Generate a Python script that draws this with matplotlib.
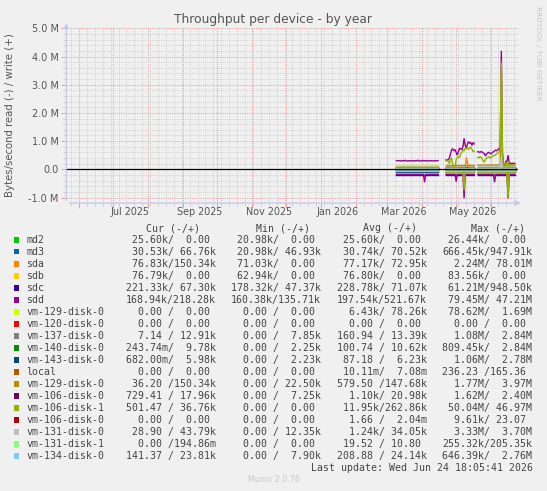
import datetime as dt
import numpy as np
import pandas as pd
import matplotlib
matplotlib.use("Agg")
import matplotlib.pyplot as plt
import matplotlib.dates as mdates
from matplotlib.ticker import MultipleLocator, FuncFormatter
from matplotlib.patches import Rectangle

# ---------------- data (values in MB/s) ----------------
names = ["md2", "md3", "sda", "sdb", "sdc", "sdd", "vm-129-disk-0", "vm-120-disk-0",
         "vm-137-disk-0", "vm-140-disk-0", "vm-143-disk-0", "local", "vm-129-disk-0",
         "vm-106-disk-0", "vm-106-disk-1", "vm-106-disk-0", "vm-131-disk-0",
         "vm-131-disk-1", "vm-134-disk-0"]
colors = ["#00CC00", "#0066B3", "#FF8000", "#FFCC00", "#330099", "#990099", "#CCFF00",
          "#FF0000", "#808080", "#008F00", "#00487D", "#B35A00", "#B38F00", "#6B006B",
          "#8FB300", "#B30000", "#BEBEBE", "#80FF80", "#80C9FF"]

seg_ranges = [("2026-03-09", "2026-04-15"), ("2026-04-22", "2026-05-17"), ("2026-05-20", "2026-06-22")]

# per-segment flat levels (read drawn negative)
read_levels = [
    [0.026, 0.026, 0.026], [0.035, 0.035, 0.035], [0.077, 0.077, 0.077], [0.077, 0.077, 0.077],
    [0.21, 0.21, 0.21], [0.18, 0.18, 0.18], [0.0, 0.0, 0.0], [0.0, 0.0, 0.0],
    [0.0, 0.0, 0.0], [0.0, 0.0, 0.0], [0.10, 0.10, 0.10], [0.0, 0.0, 0.0],
    [0.0, 0.0, 0.0], [0.0, 0.0, 0.0], [0.0, 0.12, 0.12], [0.0, 0.0, 0.0],
    [0.0, 0.0, 0.0], [0.0, 0.0, 0.0], [0.075, 0.075, 0.075]]
write_levels = [
    [0.0, 0.0, 0.0], [0.07, 0.07, 0.07], [0.07, 0.07, 0.07], [0.0, 0.0, 0.0],
    [0.06, 0.06, 0.06], [0.30, 0.60, 0.60], [0.15, 0.0, 0.0], [0.0, 0.0, 0.0],
    [0.013, 0.013, 0.013], [0.01, 0.01, 0.01], [0.006, 0.006, 0.006], [0.0, 0.0, 0.0],
    [0.09, 0.15, 0.15], [0.02, 0.02, 0.02], [0.0, 0.3, 0.3], [0.0, 0.0, 0.0],
    [0.034, 0.034, 0.034], [0.0, 0.0, 0.0], [0.024, 0.024, 0.024]]

# detailed daily series
sdd_write_seg1 = [0.31, 0.30, 0.31, 0.30, 0.29, 0.31, 0.30, 0.30, 0.32, 0.30, 0.29, 0.30, 0.31,
                  0.30, 0.30, 0.29, 0.31, 0.30, 0.30, 0.32, 0.30, 0.29, 0.30, 0.31, 0.30, 0.30,
                  0.31, 0.29, 0.30, 0.30, 0.31, 0.30, 0.30, 0.29, 0.31, 0.30, 0.30, 0.31]
sdd_write_seg2 = [0.33, 0.33, 0.34, 0.40, 0.55, 0.70, 0.72, 0.65, 0.70, 0.60, 0.50, 0.62, 0.75,
                  0.72, 0.70, 0.80, 1.10, 0.85, 0.75, 0.90, 0.98, 0.92, 0.95, 0.85, 0.95, 0.90]
sdd_write_seg3 = [0.62, 0.62, 0.60, 0.63, 0.61, 0.58, 0.55, 0.47, 0.55, 0.58, 0.60, 0.57, 0.55,
                  0.60, 0.62, 0.65, 0.68, 0.66, 0.70, 0.75, 0.80, 4.20, 0.60, 0.12, 0.15, 0.30,
                  0.25, 0.50, 0.20, 0.22, 0.20, 0.22, 0.21, 0.21]
vm106d1_write_seg2 = [0.30, 0.30, 0.28, 0.20, 0.35, 0.40, 0.15, 0.05, 0.10, 0.35, 0.40, 0.45, 0.42,
                      0.55, 0.60, 0.70, 0.65, 0.75, 0.72, 0.78, 0.70, 0.75, 0.80, 0.70, 0.62, 0.65]
vm106d1_write_seg3 = [0.42, 0.40, 0.45, 0.43, 0.38, 0.30, 0.25, 0.35, 0.40, 0.42, 0.45, 0.40, 0.42,
                      0.45, 0.50, 0.48, 0.52, 0.55, 0.58, 0.62, 0.80, 3.80, 0.50, 0.05, 0.08, 0.25,
                      0.10, 0.30, 0.10, 0.12, 0.15, 0.12, 0.15, 0.15]

# single-day spikes: (series index, date, value)
read_spikes = [(5, "2026-04-03", 0.46), (5, "2026-05-01", 0.44), (5, "2026-05-08", 1.03),
               (5, "2026-06-04", 0.46), (5, "2026-06-16", 1.03),
               (14, "2026-05-08", 0.75), (14, "2026-06-16", 1.00),
               (12, "2026-06-16", 0.90)]
write_spikes = [(2, "2026-05-10", 0.42), (2, "2026-05-11", 0.25),
                (12, "2026-06-10", 3.50), (16, "2026-06-10", 0.40)]

# legend table
cur_vals = [("25.60k", "0.00"), ("30.53k", "66.76k"), ("76.83k", "150.34k"), ("76.79k", "0.00"),
            ("221.33k", "67.30k"), ("168.94k", "218.28k"), ("0.00", "0.00"), ("0.00", "0.00"),
            ("7.14", "12.91k"), ("243.74m", "9.78k"), ("682.00m", "5.98k"), ("0.00", "0.00"),
            ("36.20", "150.34k"), ("729.41", "17.96k"), ("501.47", "36.76k"), ("0.00", "0.00"),
            ("28.90", "43.79k"), ("0.00", "194.86m"), ("141.37", "23.81k")]
min_vals = [("20.98k", "0.00"), ("20.98k", "46.93k"), ("71.03k", "0.00"), ("62.94k", "0.00"),
            ("178.32k", "47.37k"), ("160.38k", "135.71k"), ("0.00", "0.00"), ("0.00", "0.00"),
            ("0.00", "7.85k"), ("0.00", "2.25k"), ("0.00", "2.23k"), ("0.00", "0.00"),
            ("0.00", "22.50k"), ("0.00", "7.25k"), ("0.00", "0.00"), ("0.00", "0.00"),
            ("0.00", "12.35k"), ("0.00", "0.00"), ("0.00", "7.90k")]
avg_vals = [("25.60k", "0.00"), ("30.74k", "70.52k"), ("77.17k", "72.95k"), ("76.80k", "0.00"),
            ("228.78k", "71.07k"), ("197.54k", "521.67k"), ("6.43k", "78.26k"), ("0.00", "0.00"),
            ("160.94", "13.39k"), ("100.74", "10.62k"), ("87.18", "6.23k"), ("10.11m", "7.08m"),
            ("579.50", "147.68k"), ("1.10k", "20.98k"), ("11.95k", "262.86k"), ("1.66", "2.04m"),
            ("1.24k", "34.05k"), ("19.52", "10.80"), ("208.88", "24.14k")]
max_vals = [("26.44k", "0.00"), ("666.45k", "947.91k"), ("2.24M", "78.01M"), ("83.56k", "0.00"),
            ("61.21M", "948.50k"), ("79.45M", "47.21M"), ("78.62M", "1.69M"), ("0.00", "0.00"),
            ("1.08M", "2.84M"), ("809.45k", "2.84M"), ("1.06M", "2.78M"), ("236.23", "165.36"),
            ("1.77M", "3.97M"), ("1.62M", "2.40M"), ("50.04M", "46.97M"), ("9.61k", "23.07"),
            ("3.33M", "3.70M"), ("255.32k", "205.35k"), ("646.39k", "2.76M")]
col_headers = ["Cur (-/+)", "Min (-/+)", "Avg (-/+)", "Max (-/+)"]

# ---------------- figure ----------------
W, H = 547, 491
BG = "#F0F0F0"
fig = plt.figure(figsize=(W / 100, H / 100), dpi=100, facecolor=BG)

def fxp(px):
    return px / W

def fyp(py):
    return 1 - py / H

x0, x1 = 66.3, 518.0
y_top, y_bot = 26.9, 203.0
ax = fig.add_axes([fxp(x0), fyp(y_bot), (x1 - x0) / W, (y_bot - y_top) / H])
ax.set_facecolor(BG)
for s in ax.spines.values():
    s.set_visible(False)

start = dt.datetime(2025, 5, 20, 18, 5, 41)
end = dt.datetime(2026, 6, 24, 18, 5, 41)
ax.set_xlim(start, end)
ax.set_ylim(-1.195e6, 5.05e6)

# grid
ax.xaxis.set_major_locator(mdates.MonthLocator())
ax.xaxis.set_minor_locator(mdates.WeekdayLocator(byweekday=mdates.SU))
ax.yaxis.set_major_locator(MultipleLocator(1e6))
ax.yaxis.set_minor_locator(MultipleLocator(2e5))
ax.grid(which="minor", color="#CFCFCF", lw=0.72, dashes=(1, 1.2), zorder=0)
ax.grid(which="major", color="#E8A0A0", lw=0.72, dashes=(1, 1.2), zorder=0)
ax.set_axisbelow(True)
ax.xaxis.set_major_formatter(FuncFormatter(lambda v, p: ""))
ax.yaxis.set_major_formatter(FuncFormatter(
    lambda v, p: "0.0" if abs(v) < 1 else f"{v / 1e6:.1f} M"))
ax.tick_params(axis="y", which="major", length=3.5, width=0.72, color="#E8A0A0",
               labelsize=7, labelcolor="#555555", pad=2)
ax.tick_params(axis="y", which="minor", length=2, width=0.72, color="#CFCFCF")
ax.tick_params(axis="x", which="major", length=3.5, width=0.72, color="#E8A0A0")
ax.tick_params(axis="x", which="minor", length=2, width=0.72, color="#CFCFCF")

# month labels (centered half a month after month start, like rrdtool)
for yr, mo, lab in [(2025, 7, "Jul 2025"), (2025, 9, "Sep 2025"), (2025, 11, "Nov 2025"),
                    (2026, 1, "Jan 2026"), (2026, 3, "Mar 2026"), (2026, 5, "May 2026")]:
    d = dt.datetime(yr, mo, 1) + dt.timedelta(days=15)
    ax.text(d, -0.052, lab, transform=ax.get_xaxis_transform(), ha="center", va="center",
            fontsize=6.9, color="#555555")

# data
seg_dates = [pd.date_range(a, b, freq="D") for a, b in seg_ranges]
detail_write = {5: [sdd_write_seg1, sdd_write_seg2, sdd_write_seg3],
                14: [None, vm106d1_write_seg2, vm106d1_write_seg3]}

def build(idx, s, levels, spikes, detail):
    n = len(seg_dates[s])
    if idx in detail and detail[idx][s] is not None:
        vals = np.array(detail[idx][s], dtype=float)
    else:
        vals = np.full(n, levels[idx][s], dtype=float)
    for j, d, v in spikes:
        if j == idx:
            ts = pd.Timestamp(d)
            if ts in seg_dates[s]:
                vals[seg_dates[s].get_loc(ts)] = v
    return vals

for i, c in enumerate(colors):
    for s in range(3):
        dates = seg_dates[s].to_pydatetime()
        r = build(i, s, read_levels, read_spikes, {})
        w = build(i, s, write_levels, write_spikes, detail_write)
        ax.plot(dates, -r * 1e6, color=c, lw=1.0, solid_joinstyle="miter", zorder=3 + i * 0.01)
        ax.plot(dates, w * 1e6, color=c, lw=1.0, solid_joinstyle="miter", zorder=3 + i * 0.01)

ax.axhline(0, color="#000000", lw=0.9, zorder=4)

# axis lines with arrows
axcol = "#C4C6EC"
fig.add_artist(matplotlib.patches.FancyArrowPatch(
    (fxp(x0), fyp(y_bot)), (fxp(x0), fyp(20.5)), transform=fig.transFigure,
    arrowstyle="-|>", mutation_scale=7, color=axcol, lw=0.9))
fig.add_artist(matplotlib.patches.FancyArrowPatch(
    (fxp(x0), fyp(y_bot)), (fxp(523.5), fyp(y_bot)), transform=fig.transFigure,
    arrowstyle="-|>", mutation_scale=7, color=axcol, lw=0.9))

# titles
fig.text(fxp(273.5), fyp(19.3), "Throughput per device - by year", ha="center", va="center",
         fontsize=8.8, color="#555555")
fig.text(fxp(10.5), fyp(115), "Bytes/second read (-) / write (+)", rotation=90,
         ha="center", va="center", fontsize=7.3, color="#555555")
fig.text(fxp(538), fyp(53.5), "RRDTOOL / TOBI OETIKER", rotation=270, ha="center",
         va="center", fontsize=5.3, color="#C4C4C4")

# legend
mono = "DejaVu Sans Mono"
LFS = 7.1
LCOL = "#444444"

def fld(v):
    if v[-1] in "kMm":
        return f"{v[:-1]:>6}{v[-1]}"
    return f"{v:>6} "

hdr_x = [146.5, 255.8, 362.9, 471.0]
col_x = [125.8, 231.2, 336.8, 442.4]
for hx, h in zip(hdr_x, col_headers):
    fig.text(fxp(hx), fyp(228.3), h, ha="left", va="center", family=mono, fontsize=LFS, color=LCOL)

row0, step = 239.7, 12.0
for i, (nm, c) in enumerate(zip(names, colors)):
    yc = row0 + step * i
    fig.add_artist(Rectangle((fxp(13.6), fyp(yc + 2.8)), 5.6 / W, 5.6 / H,
                             transform=fig.transFigure, facecolor=c, edgecolor="none"))
    fig.text(fxp(26.2), fyp(yc), nm, ha="left", va="center", family=mono, fontsize=LFS, color=LCOL)
    for cx, vals in zip(col_x, [cur_vals, min_vals, avg_vals, max_vals]):
        rd, wr = vals[i]
        fig.text(fxp(cx), fyp(yc), f"{fld(rd)}/{fld(wr)}", ha="left", va="center",
                 family=mono, fontsize=LFS, color=LCOL)

fig.text(fxp(533.2), fyp(467.7), "Last update: Wed Jun 24 18:05:41 2026", ha="right",
         va="center", family=mono, fontsize=LFS, color=LCOL)
fig.text(fxp(273.5), fyp(479.3), "Munin 2.0.76", ha="center", va="center",
         fontsize=5.8, color="#C8C8C8")

fig.savefig("out.png", dpi=100, facecolor=BG)
